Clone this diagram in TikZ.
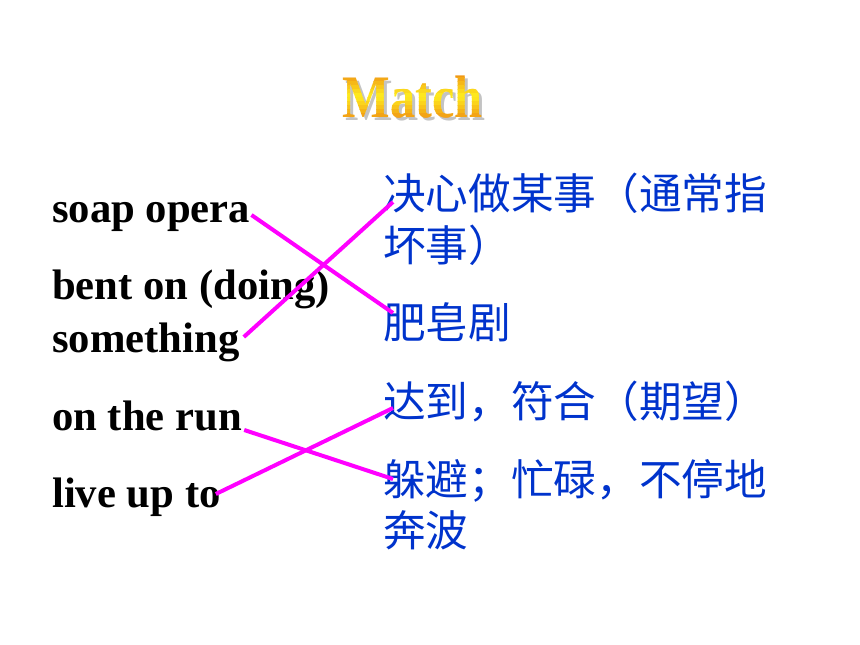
\documentclass[tikz,border=0pt]{standalone}
\usepackage{fontspec}
\setmainfont{Liberation Serif}
\newfontfamily\cjk{Noto Sans CJK SC}
\definecolor{meanblue}{RGB}{0,51,204}
\definecolor{linkpink}{RGB}{255,0,255}
\definecolor{titleo}{RGB}{240,150,20}
\definecolor{titley}{RGB}{255,238,30}
\definecolor{shadowgray}{RGB}{195,195,195}

\begin{document}
\begin{tikzpicture}[x=0.75pt,y=-0.75pt,
  word/.style={inner sep=0pt,anchor=base west,font=\bfseries\fontsize{32}{38}\selectfont},
  mean/.style={inner sep=0pt,anchor=base west,text=meanblue,font=\cjk\fontsize{32}{38}\selectfont},
  title/.style={inner sep=0pt,anchor=base,font=\bfseries\fontsize{45}{50}\selectfont},
  link/.style={draw=linkpink,line width=3pt}]
\useasboundingbox (0,0) rectangle (860,645);

% title with shadow and a stepped gradient
\node[title,text=shadowgray] (shadow) at (415.5,121) {\scalebox{0.84}[1]{Match}};
\foreach \i in {0,...,13}{
  \pgfmathsetmacro\m{min(100,abs(70+4*\i+2-97.5)/22*100)}
  \begin{scope}
    \clip (300,70+4*\i) rectangle (530,74+4*\i);
    \node[title,text=titleo!\m!titley] (title\i) at (412.5,118) {\scalebox{0.84}[1]{Match}};
  \end{scope}
}

% left column
\node[word] (soap) at (52,223) {soap opera};
\node[word] (bent) at (52,300) {bent on (doing)};
\node[word] (some) at (52,352) {something};
\node[word] (run)  at (52,430) {on the run};
\node[word] (live) at (52,507) {live up to};

% right column
\node[mean] (jue)  at (383,210) {决心做某事（通常指};
\node[mean] (huai) at (383,262) {坏事）};
\node[mean] (fei)  at (383,339) {肥皂剧};
\node[mean] (da)   at (383,417) {达到，符合（期望）};
\node[mean] (duo)  at (383,495) {躲避；忙碌，不停地};
\node[mean] (ben)  at (383,546) {奔波};

\path ([shift={(1,-8)}]soap.base east) edge[link] ([shift={(10,-26)}]fei.base west);
\path ([shift={(4,-15)}]some.base east) edge[link] ([shift={(10,-8)}]jue.base west);
\path ([shift={(2,0)}]run.base east) edge[link] ([shift={(10,-16)}]duo.base west);
\path ([shift={(-5,-13)}]live.base east) edge[link] ([shift={(10,-9)}]da.base west);
\end{tikzpicture}
\end{document}
